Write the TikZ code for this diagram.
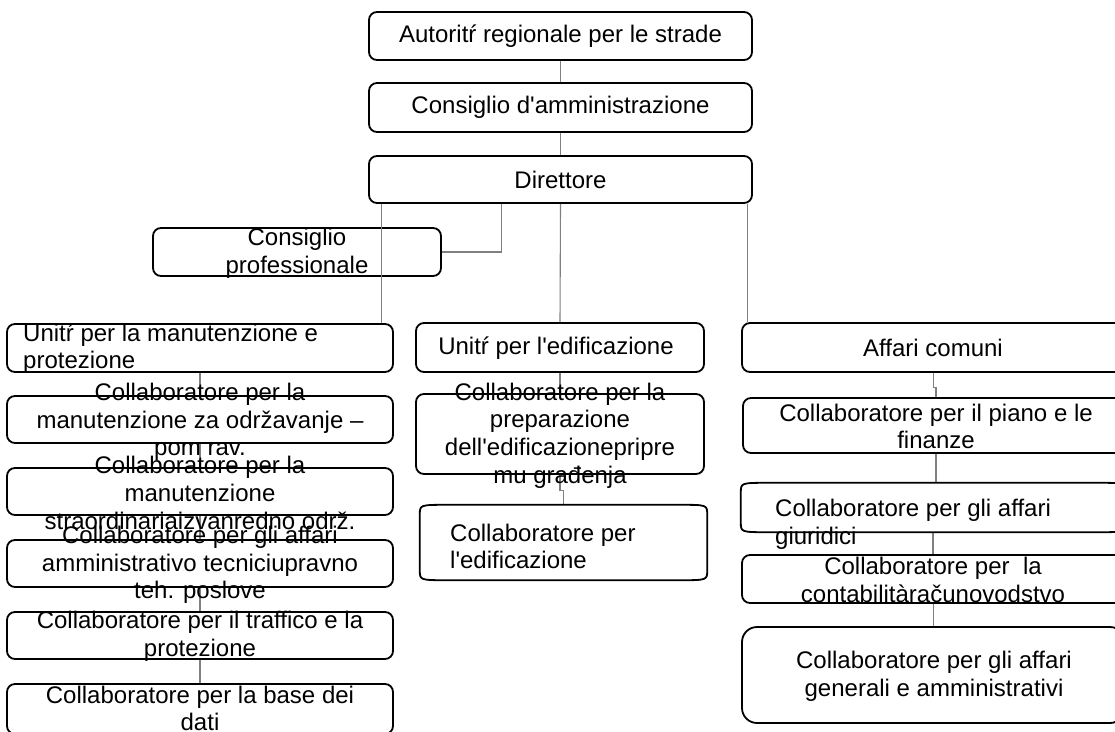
\documentclass[tikz,border=0pt]{standalone}
\usepackage{fontspec}
\setmainfont{Liberation Sans}[Ligatures=TeXOff]
\usepackage{tikz}

\begin{document}
\begin{tikzpicture}[
    x=1pt, y=-1pt,
    box/.style={draw, line width=1.8pt, rounded corners=8pt, fill=white, inner sep=0pt},
    bowbox/.style={fill=white, inner sep=0pt},
    txt/.style={font=\fontsize{24}{27.6}\selectfont, align=center, inner sep=0pt},
    link/.style={draw=gray, line width=1.1pt},
    edge/.style={line width=1.8pt, line join=round}
]
    \useasboundingbox (0,0) rectangle (1115,731);

    % Top chain
    \node[box, minimum width=383, minimum height=48] (aut) at (560.5,36) {};
    \node[box, minimum width=383, minimum height=49] (cda) at (560.5,107.5) {};
    \node[box, minimum width=383, minimum height=47] (dir) at (560.5,179.5) {};
    \node[box, minimum width=288, minimum height=48] (cprof) at (297,252) {};

    % Left column (maintenance)
    \node[box, minimum width=386, minimum height=48] (manut) at (200,348) {};
    \node[box, minimum width=386, minimum height=47] (cmanord) at (200,419.5) {};
    \node[box, minimum width=386, minimum height=47] (cmanstr) at (200,491.5) {};
    \node[box, minimum width=386, minimum height=47] (cammtec) at (200,563.5) {};
    \node[box, minimum width=386, minimum height=47] (ctraff) at (200,635.5) {};
    \node[box, minimum width=386, minimum height=50] (cbase) at (200,709) {};

    % Middle column (construction)
    \node[box, minimum width=288, minimum height=49] (edif) at (560,347.5) {};
    \node[box, minimum width=288, minimum height=80] (cprep) at (560,434) {};
    \node[bowbox, minimum width=287, minimum height=75] (cedif) at (563.5,542.5) {};

    % Right column (common affairs)
    \node[box, minimum width=383, minimum height=49] (affcom) at (933.5,347.5) {};
    \node[box, minimum width=386, minimum height=55] (cpiano) at (936,425.5) {};
    \node[bowbox, minimum width=384, minimum height=49] (cgiur) at (933,507.5) {};
    \node[box, minimum width=383, minimum height=48] (cconta) at (933.5,579) {};
    \node[box, minimum width=383, minimum height=96, rounded corners=15pt] (cgen) at (933.5,675) {};

    % Connectors
    \draw[link] (aut.south) -- (cda.north);
    \draw[link] (cda.south) -- (dir.north);
    \draw[link] ([xshift=-12pt]manut.north east) -- ([xshift=-12pt]manut.north east |- dir.south);
    \draw[link] (cprof.east) -| ([xshift=-59pt]dir.south);
    \draw[link] (dir.south) -- (edif.north);
    \draw[link] ([xshift=6pt]affcom.north west) -- ([xshift=6pt]affcom.north west |- dir.south);
    \foreach \a/\b in {manut/cmanord, cmanord/cmanstr, cmanstr/cammtec, cammtec/ctraff, ctraff/cbase}
        \draw[link] (\a.south) -- (\b.north);
    \draw[link] (edif.south) -- (cprep.north);
    \draw[link] (cprep.south) -- ++(0,16) -| (cedif.north);
    \draw[link] (affcom.south) -- ++(0,15) -| (cpiano.north);
    \draw[link] (cpiano.south) -- (cpiano.south |- cgiur.north);
    \draw[link] (cgiur.south) -- (cgiur.south |- cconta.north);
    \draw[link] (cconta.south) -- (cgen.north);

    % Bowed outlines
    \foreach \n in {cedif, cgiur}
        \draw[edge] ([yshift=-10pt]\n.north west) .. controls (\n.north west) .. ([xshift=28pt]\n.north west)
            -- ([xshift=-28pt]\n.north east) .. controls (\n.north east) .. ([yshift=-10pt]\n.north east)
            -- ([yshift=10pt]\n.south east) .. controls (\n.south east) .. ([xshift=-28pt]\n.south east)
            -- ([xshift=28pt]\n.south west) .. controls (\n.south west) .. ([yshift=10pt]\n.south west) -- cycle;

    % Labels
    \node[txt] (t-aut) at (560.5,36) {Autoritŕ regionale per le strade};
    \node[txt] (t-cda) at (560.5,107.5) {Consiglio d'amministrazione};
    \node[txt] (t-dir) at (560.5,179.5) {Direttore};
    \node[txt] (t-cprof) at (297,253) {Consiglio\\professionale};

    \node[txt, anchor=west, align=left] (t-manut) at (23,348.5) {Unitŕ per la manutenzione e\\protezione};
    \node[txt] (t-cmanord) at (200,422) {Collaboratore per la\\manutenzione za održavanje –\\pom rav.};
    \node[txt] (t-cmanstr) at (200,493) {Collaboratore per la\\manutenzione\\straordinariaizvanredno održ.};
    \node[txt] (t-cammtec) at (200,565) {Collaboratore per gli affari\\amministrativo tecniciupravno\\teh. poslove};
    \node[txt] (t-ctraff) at (200,636.5) {Collaboratore per il traffico e la\\protezione};
    \node[txt] (t-cbase) at (200,708.5) {Collaboratore per la base dei\\dati};

    \node[txt] (t-edif) at (556,348) {Unitŕ per l'edificazione};
    \node[txt] (t-cprep) at (560,435.5) {Collaboratore per la\\preparazione\\dell'edificazionepripre\\mu građenja};
    \node[txt, anchor=west, align=left] (t-cedif) at (450,546.5) {Collaboratore per\\l'edificazione};

    \node[txt] (t-affcom) at (933,348) {Affari comuni};
    \node[txt] (t-cpiano) at (936,426.5) {Collaboratore per il piano e le\\finanze};
    \node[txt, anchor=west, align=left] (t-cgiur) at (775,524) {Collaboratore per gli affari\\giuridici};
    \node[txt] (t-cconta) at (933,580) {Collaboratore per\ \ la\\contabilitàračunovodstvo};
    \node[txt] (t-cgen) at (934,676) {Collaboratore per gli affari\\generali e amministrativi};
\end{tikzpicture}
\end{document}
